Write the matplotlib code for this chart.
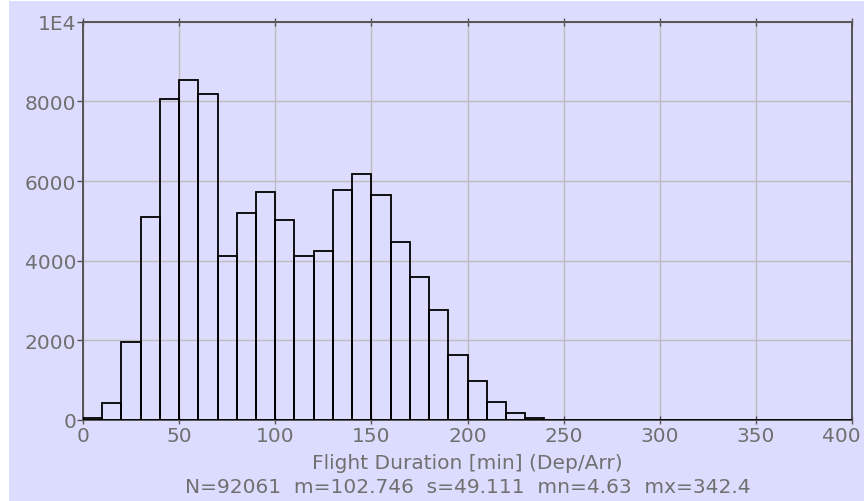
import numpy as np
import matplotlib
matplotlib.use('Agg')
import matplotlib.pyplot as plt
import matplotlib.transforms as mtransforms
from matplotlib.patches import Rectangle

#------------------------------------------------------------------------------
# DATA (histogram of flight durations, 10 min bins)
#------------------------------------------------------------------------------
bin_edges = list(range(0, 410, 10))
counts = [60, 420, 1950, 5090, 8050, 8530, 8180, 4120, 5200, 5730,
          5020, 4120, 4250, 5780, 6170, 5650, 4480, 3600, 2750, 1640,
          980, 440, 170, 50, 0, 0, 0, 0, 0, 0,
          0, 0, 0, 0, 0, 0, 0, 0, 0, 0]

x_ticks = [0, 50, 100, 150, 200, 250, 300, 350, 400]
y_ticks = [0, 2000, 4000, 6000, 8000, 10000]
y_labels = ['0', '2000', '4000', '6000', '8000', '1E4']

x_title = 'Flight Duration [min] (Dep/Arr)'
stats = 'N=92061  m=102.746  s=49.111  mn=4.63  mx=342.4'

#------------------------------------------------------------------------------
# STYLE
#------------------------------------------------------------------------------
bg = '#dcdcff'
txt = '#707070'
fs = 14.5
plt.rcParams['font.family'] = ['DejaVu Sans']

fig = plt.figure(figsize=(8.64, 5.02), dpi=100, facecolor='white')
fig.patches.append(Rectangle((9 / 864, 0), 1, 1 - 2 / 502, transform=fig.transFigure,
                             facecolor=bg, edgecolor='none', zorder=-10))

ax = fig.add_axes([83 / 864, 81 / 502, 769 / 864, 398.3 / 502])
ax.set_facecolor(bg)

# bars from bin edges
ax.hist(bin_edges[:-1], bins=bin_edges, weights=counts, histtype='bar',
        fill=False, edgecolor='black', linewidth=1.3, zorder=3)

ax.set_xlim(0, 400)
ax.set_ylim(0, 10000)
ax.set_xticks(x_ticks)
ax.set_yticks(y_ticks)
ax.set_yticklabels(y_labels)

ax.grid(True, color='#bdbdbd', linewidth=1.0, zorder=0)
ax.set_axisbelow(True)

for s in ax.spines.values():
    s.set_color('#555555')
    s.set_linewidth(1.4)

ax.tick_params(axis='x', direction='inout', length=6, width=1, color='#555555',
               labelsize=fs, labelcolor=txt, pad=1, top=True)
ax.tick_params(axis='y', direction='out', length=4, width=1, color='#555555',
               labelsize=fs, labelcolor=txt, pad=1)

# last x label pulled in so it stays on the canvas
last = ax.get_xticklabels()[-1]
last.set_transform(last.get_transform() + mtransforms.ScaledTranslation(-11 / 100, 0, fig.dpi_scale_trans))

ax.set_xlabel(x_title, fontsize=fs, color=txt, labelpad=6)
fig.text(0.5 * (83 + 852) / 864, 1 - 488 / 502, stats, fontsize=fs, color=txt,
         ha='center', va='center')

plt.savefig('out.png', dpi=100, facecolor=fig.get_facecolor())
